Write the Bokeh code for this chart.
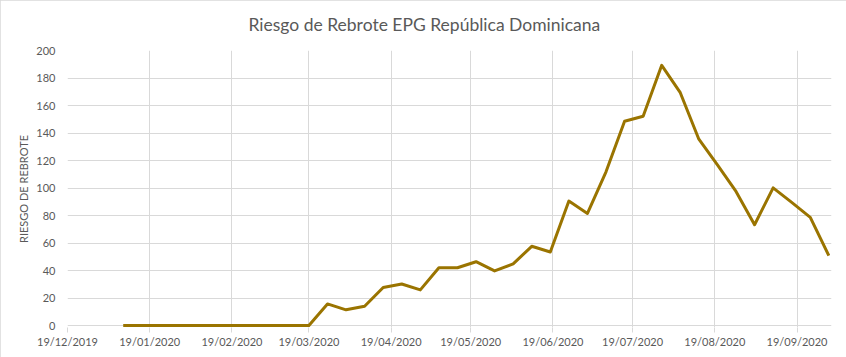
import pandas as pd
from bokeh.plotting import figure
from bokeh.models import Range1d, FixedTicker, DatetimeTickFormatter
from bokeh.embed import file_html
from bokeh.resources import INLINE

# ---- data ----
fechas = [
    "2020-01-09", "2020-01-16", "2020-01-23", "2020-01-30",
    "2020-02-06", "2020-02-13", "2020-02-20", "2020-02-27",
    "2020-03-05", "2020-03-12", "2020-03-19", "2020-03-26",
    "2020-04-02", "2020-04-09", "2020-04-16", "2020-04-23", "2020-04-30",
    "2020-05-07", "2020-05-14", "2020-05-21", "2020-05-28",
    "2020-06-04", "2020-06-11", "2020-06-18", "2020-06-25",
    "2020-07-02", "2020-07-09", "2020-07-16", "2020-07-23", "2020-07-30",
    "2020-08-06", "2020-08-13", "2020-08-20", "2020-08-27",
    "2020-09-03", "2020-09-10", "2020-09-17", "2020-09-24",
    "2020-10-01",
]
riesgo = [
    0, 0, 0, 0,
    0, 0, 0, 0,
    0, 0, 0, 15.7,
    11.4, 14.0, 27.6, 30.2, 25.9,
    42.0, 42.0, 46.4, 39.7,
    44.8, 57.6, 53.5, 90.5,
    81.5, 111.8, 148.5, 152.2, 189.2,
    169.3, 135.5, 116.8, 97.5,
    73.3, 100.1, 89.5, 78.6,
    50.8,
]
x_tick_fechas = [
    "2019-12-19", "2020-01-19", "2020-02-19", "2020-03-19", "2020-04-19",
    "2020-05-19", "2020-06-19", "2020-07-19", "2020-08-19", "2020-09-19",
]
y_ticks = [0, 20, 40, 60, 80, 100, 120, 140, 160, 180, 200]
x_inicio = "2019-12-19"
x_fin = "2020-10-02"
titulo = "Riesgo de Rebrote EPG República Dominicana"
etiqueta_y = "RIESGO DE REBROTE"

# ---- styling ----
FONT = "Lato"
TXT = "#595959"
GRID = "#D9D9D9"
LINE = "#9A7400"

def to_ms(s):
    return (pd.Timestamp(s) - pd.Timestamp("1970-01-01")) // pd.Timedelta(milliseconds=1)

x = pd.to_datetime(fechas)
xticks = [to_ms(s) for s in x_tick_fechas]

p = figure(
    width=846, height=357,
    x_axis_type="datetime",
    x_range=Range1d(to_ms(x_inicio), to_ms(x_fin)),
    y_range=Range1d(-1.45, 200),
    output_backend="svg", toolbar_location=None,
    min_border_left=67, min_border_right=15,
    min_border_top=49, min_border_bottom=30,
)
p.styles = {"outline": "1px solid #D9D9D9", "outline-offset": "-1px"}

p.line(x, riesgo, line_color=LINE, line_width=3, line_join="round")

p.title.text = titulo
p.title.align = "left"
p.title.offset = 181
p.title.vertical_align = "top"
p.title.standoff = 27
p.title.text_font = FONT
p.title.text_font_size = "17.5px"
p.title.text_font_style = "normal"
p.title.text_color = TXT

p.outline_line_color = None

xt = FixedTicker(ticks=xticks)
p.xaxis.ticker = xt
p.xgrid.ticker = xt
fmt = "%d/%m/%Y"
p.xaxis.formatter = DatetimeTickFormatter(
    milliseconds=fmt, seconds=fmt, minsec=fmt, minutes=fmt, hourmin=fmt,
    hours=fmt, days=fmt, months=fmt, years=fmt,
)
p.xaxis.axis_line_color = None
p.xaxis.major_tick_line_color = GRID
p.xaxis.major_tick_out = 5
p.xaxis.major_tick_in = 0
p.xaxis.minor_tick_line_color = None
p.xaxis.major_label_standoff = 2
p.xaxis.major_label_text_font = FONT
p.xaxis.major_label_text_font_size = "11px"
p.xaxis.major_label_text_color = TXT

yt = FixedTicker(ticks=y_ticks)
p.yaxis.ticker = yt
p.ygrid.ticker = yt
p.yaxis.axis_line_color = None
p.yaxis.major_tick_line_color = None
p.yaxis.major_tick_out = 0
p.yaxis.major_tick_in = 0
p.yaxis.minor_tick_line_color = None
p.yaxis.major_label_standoff = 12
p.yaxis.major_label_text_font = FONT
p.yaxis.major_label_text_font_size = "11px"
p.yaxis.major_label_text_color = TXT
p.yaxis.axis_label = etiqueta_y
p.yaxis.axis_label_text_font = FONT
p.yaxis.axis_label_text_font_size = "11px"
p.yaxis.axis_label_text_font_style = "normal"
p.yaxis.axis_label_text_color = TXT
p.yaxis.axis_label_standoff = 3

p.xgrid.grid_line_color = GRID
p.ygrid.grid_line_color = GRID

open("out.html", "w").write(file_html(p, INLINE))
